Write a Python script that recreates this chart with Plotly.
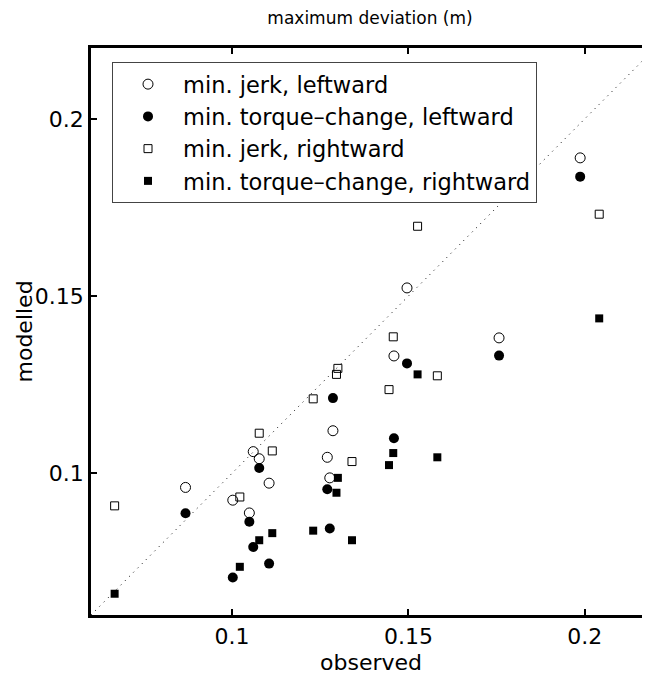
import plotly.graph_objects as go

# observed / modelled maximum deviation (m)
obs_left = [0.0868, 0.1002, 0.1049, 0.1060, 0.1077, 0.1105, 0.1270, 0.1277, 0.1286,
            0.1459, 0.1496, 0.1757, 0.1987]
jerk_left = [0.0960, 0.0924, 0.0888, 0.1061, 0.1041, 0.0972, 0.1045, 0.0987, 0.1120,
             0.1331, 0.1523, 0.1382, 0.1890]
torque_left = [0.0887, 0.0706, 0.0863, 0.0792, 0.1015, 0.0745, 0.0955, 0.0844, 0.1212,
               0.1099, 0.1310, 0.1332, 0.1837]

obs_right = [0.0667, 0.1022, 0.1077, 0.1114, 0.1230, 0.1296, 0.1300, 0.1340, 0.1445,
             0.1457, 0.1526, 0.1582, 0.2041]
jerk_right = [0.0908, 0.0933, 0.1113, 0.1063, 0.1210, 0.1279, 0.1296, 0.1033, 0.1236,
              0.1385, 0.1697, 0.1275, 0.1731]
torque_right = [0.0660, 0.0736, 0.0811, 0.0831, 0.0838, 0.0945, 0.0987, 0.0811, 0.1023,
                0.1057, 0.1279, 0.1045, 0.1437]

identity = [0.06, 0.22]
tick_vals = [0.1, 0.15, 0.2]
tick_text = ["0.1", "0.15", "0.2"]

FONT = "DejaVu Sans, Liberation Sans, Arial, sans-serif"

# page has an 8px body margin: figure coords = page coords - 8
W, H = 642, 668
L, T, B_AX = 83, 40, 607  # left axis, top axis, bottom axis (figure coords)

fig = go.Figure()

fig.add_trace(go.Scatter(x=identity, y=identity, mode="lines",
                         line=dict(color="black", width=1, dash="1px,5px"),
                         showlegend=False, hoverinfo="skip"))

fig.add_trace(go.Scatter(x=obs_left, y=jerk_left, mode="markers",
                         name="min. jerk, leftward",
                         marker=dict(symbol="circle-open", size=10, color="black",
                                     line=dict(width=1, color="black"))))
fig.add_trace(go.Scatter(x=obs_left, y=torque_left, mode="markers",
                         name="min. torque\u2013change, leftward",
                         marker=dict(symbol="circle", size=10, color="black")))
fig.add_trace(go.Scatter(x=obs_right, y=jerk_right, mode="markers",
                         name="min. jerk, rightward",
                         marker=dict(symbol="square-open", size=8, color="black",
                                     line=dict(width=1, color="black"))))
fig.add_trace(go.Scatter(x=obs_right, y=torque_right, mode="markers",
                         name="min. torque\u2013change, rightward",
                         marker=dict(symbol="square", size=8, color="black")))

pw = W - L
ph = B_AX - T

fig.update_layout(
    width=W, height=H,
    margin=dict(l=L, r=0, t=T, b=H - B_AX, autoexpand=False),
    paper_bgcolor="white", plot_bgcolor="white",
    font=dict(family=FONT, size=22, color="black"),
    title=dict(text="maximum deviation (m)", x=(362 - L) / pw, xref="paper",
               xanchor="center", y=1 - 10 / H, yanchor="middle", yref="container",
               font=dict(size=17, color="black")),
    legend=dict(x=(104 - L) / pw, y=(B_AX - 54) / ph, xanchor="left", yanchor="top",
                bgcolor="white", bordercolor="#444", borderwidth=1,
                font=dict(size=22.5), itemwidth=60, tracegroupgap=0),
    showlegend=True,
    annotations=[
        dict(text="observed", xref="paper", yref="paper", x=0.5, y=0,
             xanchor="center", yanchor="middle", yshift=-47, showarrow=False,
             font=dict(size=22)),
        dict(text="modelled", xref="paper", yref="paper", x=0, y=0.5,
             xanchor="center", yanchor="middle", xshift=-67, textangle=-90,
             showarrow=False, font=dict(size=22)),
    ],
)

fig.update_xaxes(range=[0.06, 0.2185], tickvals=tick_vals, ticktext=tick_text,
                 showline=True, linecolor="black", linewidth=2.5,
                 ticks="inside", ticklen=6, tickwidth=2, tickcolor="black",
                 mirror="ticks", showgrid=False, zeroline=False, automargin=False,
                 tickfont=dict(size=22))
fig.update_yaxes(range=[0.06, 0.22], tickvals=tick_vals, ticktext=tick_text,
                 showline=True, linecolor="black", linewidth=2.5,
                 ticks="inside", ticklen=6, tickwidth=2, tickcolor="black",
                 showgrid=False, zeroline=False, automargin=False,
                 tickfont=dict(size=22))

fig.write_html("out.html")
